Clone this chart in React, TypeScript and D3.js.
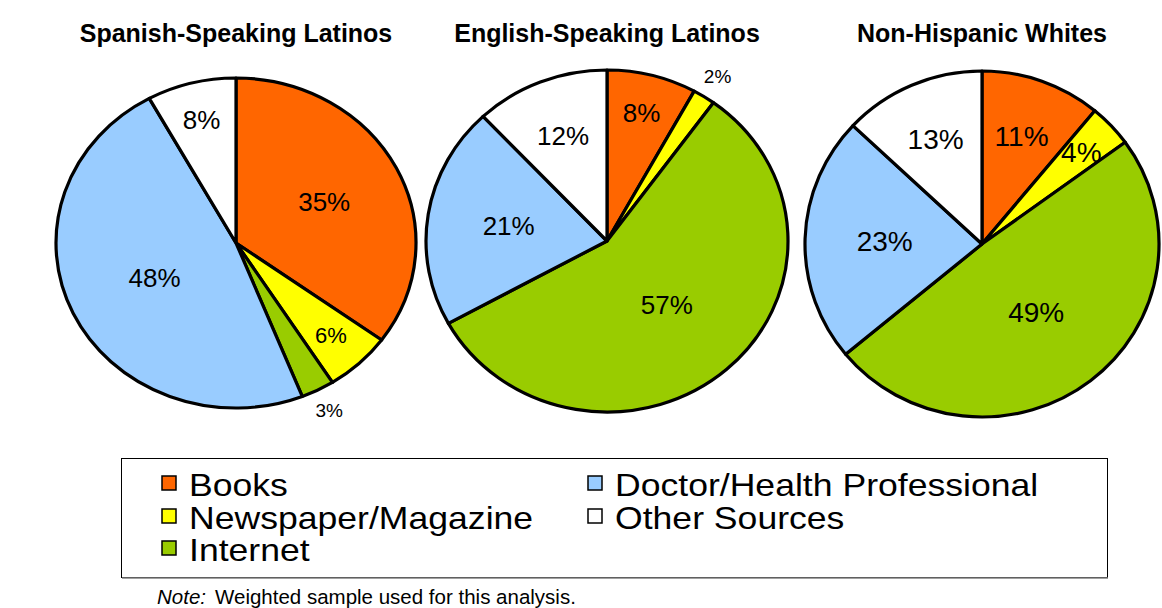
import React from "react";
import * as d3 from "d3";

const categories = ["Books", "Newspaper/Magazine", "Internet", "Doctor/Health Professional", "Other Sources"];
const colors = ["#FF6600", "#FFFF00", "#99CC00", "#99CCFF", "#FFFFFF"];
const groupTitles = ["Spanish-Speaking Latinos", "English-Speaking Latinos", "Non-Hispanic Whites"];
const spanishValues = [35, 6, 3, 48, 8];
const englishValues = [8, 2, 57, 21, 12];
const whiteValues = [11, 4, 49, 23, 13];
const noteLabel = "Note:";
const noteText = "Weighted sample used for this analysis.";

const W = 1162;
const H = 608;
const FONT = "'Liberation Sans', Arial, Helvetica, sans-serif";

const pies = [
  { title: groupTitles[0], values: spanishValues, cx: 236, cy: 243, rx: 180, ry: 165, fs: 26 },
  { title: groupTitles[1], values: englishValues, cx: 607, cy: 241, rx: 181, ry: 171, fs: 26 },
  { title: groupTitles[2], values: whiteValues, cx: 982, cy: 244, rx: 177, ry: 173, fs: 28 },
];

function labelFrac(v: number) {
  if (v <= 3) return 1.14;
  if (v < 10) return 0.77;
  if (v < 15) return 0.66;
  if (v < 40) return 0.55;
  return 0.5;
}

function Pie({ p }: { p: (typeof pies)[number] }) {
  const pieGen = d3.pie<number>().sort(null).value((d) => d).startAngle(0).endAngle(2 * Math.PI);
  const arcs = pieGen(p.values);
  const arcGen = d3.arc<d3.PieArcDatum<number>>().innerRadius(0).outerRadius(p.rx);
  const sy = p.ry / p.rx;
  return (
    <g>
      <text x={p.cx} y={42} textAnchor="middle" fontFamily={FONT} fontWeight="bold" fontSize={25} fill="#000">
        {p.title}
      </text>
      <g transform={`translate(${p.cx},${p.cy}) scale(1,${sy})`}>
        {arcs.map((a, i) => (
          <path
            key={i}
            d={arcGen(a) || ""}
            fill={colors[i]}
            stroke="#000"
            strokeWidth={3.2}
            strokeLinejoin="round"
            vectorEffect="non-scaling-stroke"
          />
        ))}
      </g>
      {arcs.map((a, i) => {
        const mid = (a.startAngle + a.endAngle) / 2;
        const f = labelFrac(a.data);
        const x = p.cx + f * p.rx * Math.sin(mid);
        const y = p.cy - f * p.ry * Math.cos(mid);
        const small = a.data <= 3;
        const fs = small ? 19 : a.data < 7 && p.fs < 28 ? 22 : p.fs;
        return (
          <text
            key={i}
            x={x}
            y={y}
            textAnchor="middle"
            dominantBaseline="central"
            fontFamily={FONT}
            fontSize={fs}
            fill="#000"
          >
            {a.data}%
          </text>
        );
      })}
    </g>
  );
}

export default function App() {
  const legendCols = [
    [0, 1, 2],
    [3, 4],
  ];
  const colX = [162, 588];
  const rowY = [496, 529, 561];
  const sx = 1.13;
  return (
    <svg width={W} height={H} style={{ position: "absolute", left: 0, top: 0, background: "#fff" }}>
      <rect x={0} y={0} width={W} height={H} fill="#fff" />
      {pies.map((p, i) => (
        <Pie key={i} p={p} />
      ))}
      <rect x={121.5} y={458.5} width={986} height={119} fill="#fff" stroke="#000" strokeWidth={1} />
      <line x1={122} y1={578} x2={1108} y2={578} stroke="#808080" strokeWidth={1.5} />
      {legendCols.map((col, ci) =>
        col.map((idx, ri) => (
          <g key={`${ci}-${ri}`}>
            <rect
              x={colX[ci]}
              y={rowY[ri] - 20}
              width={14}
              height={14}
              fill={colors[idx]}
              stroke="#000"
              strokeWidth={1.5}
            />
            <g transform={`translate(${colX[ci] + 27},${rowY[ri]}) scale(${sx},1)`}>
              <text x={0} y={0} fontFamily={FONT} fontSize={31.5} fill="#000">
                {categories[idx]}
              </text>
            </g>
          </g>
        ))
      )}
      <text x={157} y={604} fontFamily={FONT} fontSize={20.5} fill="#000">
        <tspan fontStyle="italic">{noteLabel}</tspan>
        <tspan dx={9}>{noteText}</tspan>
      </text>
    </svg>
  );
}
